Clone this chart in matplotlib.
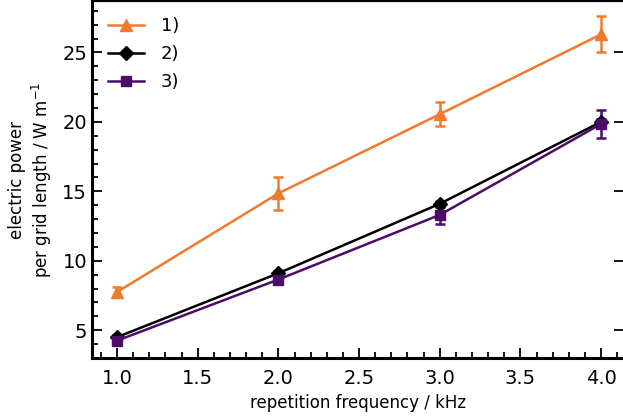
import matplotlib
matplotlib.use('Agg')
import matplotlib.pyplot as plt
from matplotlib.lines import Line2D
from matplotlib.ticker import MultipleLocator

# repetition frequency in kHz
freq = [1.0, 2.0, 3.0, 4.0]

# electric power per grid length (W/m) and uncertainties for the three setups
power1 = [7.75, 14.85, 20.55, 26.3]
err1 = [0.35, 1.2, 0.86, 1.3]
power2 = [4.5, 9.1, 14.1, 20.0]
err2 = [0.15, 0.15, 0.2, 0.2]
power3 = [4.25, 8.65, 13.3, 19.85]
err3 = [0.2, 0.3, 0.65, 0.98]

labels = ['1)', '2)', '3)']
colors = ['#f07a2e', 'black', '#4b0c6b']
markers = ['^', 'D', 's']
msizes = [8, 7, 7]

fig = plt.figure(figsize=(6.23, 4.19), dpi=100)
ax = fig.add_axes([92 / 623, 61 / 419, 532 / 623, 357 / 419])

handles = []
for p, e, c, m, ms, lab in zip([power1, power2, power3], [err1, err2, err3],
                               colors, markers, msizes, labels):
    ax.errorbar(freq, p, yerr=e, color=c, marker=m, markersize=ms,
                lw=1.8, capsize=3.5, capthick=1.8, elinewidth=1.8)
    handles.append(Line2D([], [], color=c, marker=m, markersize=ms, lw=1.8, label=lab))

ax.set_xlim(0.845, 4.142)
ax.set_ylim(3.0, 28.7)
ax.xaxis.set_major_locator(MultipleLocator(0.5))
ax.xaxis.set_minor_locator(MultipleLocator(0.1))
ax.yaxis.set_major_locator(MultipleLocator(5))
ax.yaxis.set_minor_locator(MultipleLocator(1))

ax.tick_params(which='both', direction='in', top=False, width=1.3)
ax.tick_params(which='major', length=7, labelsize=14, right=True)
ax.tick_params(which='minor', length=4, right=False)
ax.tick_params(axis='x', pad=8)
for s in ax.spines.values():
    s.set_linewidth(2.2)
ax.spines['top'].set_linewidth(1.6)
ax.spines['right'].set_visible(False)

ax.set_xlabel('repetition frequency / kHz', fontsize=12, labelpad=4)
ax.set_ylabel('electric power\nper grid length / W m$^{-1}$', fontsize=12, labelpad=6)

ax.legend(handles=handles, loc='upper left', frameon=False, fontsize=13,
          handlelength=2.0, handletextpad=0.9, borderaxespad=0.5,
          labelspacing=0.55)

fig.savefig('out.png', dpi=100)
